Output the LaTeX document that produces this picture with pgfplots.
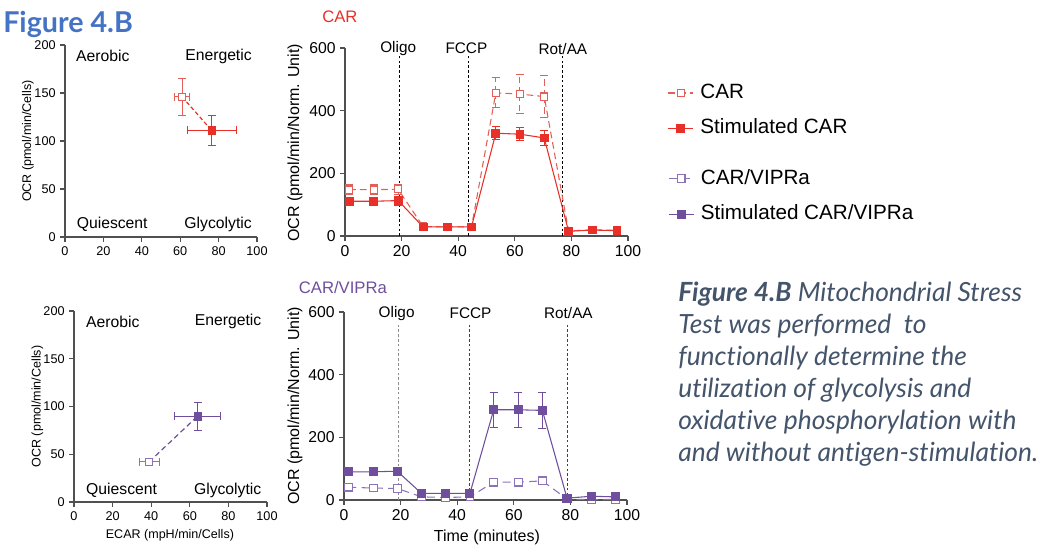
\documentclass[border=0pt]{standalone}
\usepackage{pgfplots}
\pgfplotsset{compat=1.18}
\usepackage{fontspec}
\setmainfont{Liberation Sans}
\newfontfamily\lato[Ligatures={NoCommon}]{Lato}

\definecolor{carred}{RGB}{232,48,40}
\definecolor{carlight}{RGB}{228,95,88}
\definecolor{vipr}{RGB}{111,78,158}
\definecolor{viprlight}{RGB}{140,115,185}
\definecolor{figblue}{RGB}{68,114,196}
\definecolor{capgray}{RGB}{68,84,106}
\definecolor{axgray}{RGB}{80,80,80}

\tikzset{
  quad/.style={font=\fontsize{11.8}{13}\selectfont, inner sep=0pt},
  drug/.style={font=\fontsize{11.5}{13}\selectfont},
}

\pgfplotsset{
  myaxis/.style={
    scale only axis,
    axis x line*=bottom, axis y line*=left,
    axis line style={axgray, line width=0.8pt},
    tick align=outside,
    major tick length=3.5pt,
    tick style={axgray, line width=0.8pt},
    /pgf/number format/assume math mode=true,
    clip=false,
    xmin=0, xmax=100,
  },
  scat/.style={
    myaxis, ymin=0, ymax=200,
    xtick={0,20,...,100}, ytick={0,50,...,200},
    tick label style={font=\fontsize{9.5}{11}\selectfont},
    label style={font=\fontsize{9.4}{11}\selectfont},
  },
  tser/.style={
    myaxis, ymin=0, ymax=600,
    xtick={0,20,...,100}, ytick={0,200,400,600},
    tick label style={font=\fontsize{11.8}{13}\selectfont},
    label style={font=\fontsize{12}{14}\selectfont},
  },
  ebar/.style={
    error bars/.cd,
      y dir=both, y explicit,
      error bar style={#1, line width=0.7pt},
      error mark options={#1, rotate=90, mark size=3pt, line width=0.7pt},
  },
  ebarxy/.style={
    error bars/.cd,
      x dir=both, x explicit, y dir=both, y explicit,
      error bar style={#1, line width=0.7pt},
      error mark options={#1, rotate=90, mark size=3pt, line width=0.7pt},
  },
  mylegend/.style={
    legend style={draw=none, fill=none, anchor=north west,
      font=\fontsize{15.5}{18}\selectfont, row sep=8pt, column sep=3pt, legend cell align=left,
      nodes={inner sep=2pt, text height=11.5pt, text depth=3pt}},
    legend image code/.code={\draw[mark repeat=2,mark phase=2,##1] plot coordinates {(0pt,0pt) (9.4pt,0pt) (18.8pt,0pt)};},
  },
}

\begin{document}
\begin{tikzpicture}
\path[use as bounding box] (0,0) rectangle (786.75pt,-417pt);

% Title
\node[anchor=base west, inner sep=0pt, text=figblue, font=\lato\bfseries\fontsize{21.5}{25}\selectfont] at (2.25pt,-24.75pt) {Figure 4.B};

% ---------------- Plot 1: CAR energy map ----------------
\begin{axis}[scat, at={(48.75pt,-177.75pt)}, anchor=origin, width=144pt, height=144pt,
  ylabel={OCR (pmol/min/Cells)},
  ylabel style={at={(axis description cs:-0.193,0.5)}, anchor=center},
]
\node[quad, anchor=west] at (axis cs:5.7,188.5) {Aerobic};
\node[quad, anchor=east] at (axis cs:97.4,188.5) {Energetic};
\node[quad, anchor=west] at (axis cs:6,13.5) {Quiescent};
\node[quad, anchor=east] at (axis cs:97.4,13.5) {Glycolytic};
\addplot[carred, line width=0.9pt, dash pattern=on 3pt off 2pt, forget plot] coordinates {(61,146) (76.4,111)};
\addplot[only marks, mark=square*, mark size=2.6pt, mark options={draw=carlight, fill=white, line width=0.7pt}, ebarxy=carlight]
  coordinates {(61,146) +- (4,19)};
\addplot[only marks, mark=square*, mark size=2.8pt, mark options={draw=carred, fill=carred}, ebarxy=carred]
  coordinates {(76.4,111) +- (12.7,16)};
\end{axis}

% ---------------- Plot 2: CAR time course ----------------
\begin{axis}[tser, mylegend, at={(258.75pt,-177pt)}, anchor=origin, width=212.25pt, height=141pt,
  ylabel={OCR (pmol/min/Norm. Unit)},
  ylabel style={at={(axis description cs:-0.177,0.495)}, anchor=center},
  legend style={at={(axis description cs:1.125,0.842)}},
]
\addplot[black, line width=0.7pt, dash pattern=on 2pt off 1.6pt, forget plot] coordinates {(19.2,0) (19.2,578)};
\addplot[black, line width=0.7pt, dash pattern=on 2pt off 1.6pt, forget plot] coordinates {(43.5,0) (43.5,578)};
\addplot[black, line width=0.7pt, dash pattern=on 2pt off 1.6pt, forget plot] coordinates {(76.8,0) (76.8,578)};
\node[drug] at (axis cs:18.8,598) {Oligo};
\node[drug] at (axis cs:42.9,598) {FCCP};
\node[drug] at (axis cs:77,598) {Rot/AA};
\node[font=\fontsize{12.5}{14}\selectfont, text=carred] at (axis description cs:-0.018,1.165) {CAR};
\addplot[carlight, line width=0.8pt, dash pattern=on 5pt off 3pt, mark=square*, mark size=2.7pt,
  mark options={solid, fill=white, draw=carlight}, ebar=carlight]
  coordinates {
    (1.5,148) +- (0,15) (10.2,148) +- (0,15) (18.8,149) +- (0,16)
    (27.6,30) +- (0,6) (36.2,29) +- (0,5) (44.7,29) +- (0,6)
    (53.3,457) +- (0,48) (61.8,453) +- (0,61) (70.4,445) +- (0,66)
    (79.0,16) +- (0,4) (87.4,20) +- (0,5) (96.1,18) +- (0,4)
  };
\addlegendentry{CAR}
\addplot[carred, line width=0.8pt, mark=square*, mark size=2.9pt,
  mark options={fill=carred, draw=carred}, ebar=carred]
  coordinates {
    (1.5,111) +- (0,12) (10.2,111) +- (0,12) (18.8,113) +- (0,14)
    (27.6,29) +- (0,5) (36.2,29) +- (0,5) (44.7,29) +- (0,5)
    (53.3,328) +- (0,21) (61.8,325) +- (0,21) (70.4,313) +- (0,24)
    (79.0,15) +- (0,3) (87.4,19) +- (0,4) (96.1,17) +- (0,4)
  };
\addlegendentry{Stimulated CAR}
\end{axis}

% ---------------- Plot 3: CAR/VIPRa energy map ----------------
\begin{axis}[scat, at={(55.5pt,-376.5pt)}, anchor=origin, width=144.75pt, height=143.25pt,
  ylabel={OCR (pmol/min/Cells)},
  ylabel style={at={(axis description cs:-0.19,0.5)}, anchor=center},
  xlabel={ECAR (mpH/min/Cells)},
  xlabel style={at={(axis description cs:0.497,-0.173)}, anchor=center},
]
\node[quad, anchor=west] at (axis cs:6.2,189) {Aerobic};
\node[quad, anchor=east] at (axis cs:97.2,189) {Energetic};
\node[quad, anchor=west] at (axis cs:6.2,12.5) {Quiescent};
\node[quad, anchor=east] at (axis cs:97.2,12.5) {Glycolytic};
\addplot[vipr, line width=0.9pt, dash pattern=on 4pt off 2.5pt, forget plot] coordinates {(38.9,42) (64.1,90)};
\addplot[only marks, mark=square*, mark size=2.7pt, mark options={draw=viprlight, fill=white, line width=0.7pt}, ebarxy=viprlight]
  coordinates {(38.9,42) +- (5.2,3.5)};
\addplot[only marks, mark=square*, mark size=2.8pt, mark options={draw=vipr, fill=vipr}, ebarxy=vipr]
  coordinates {(64.1,90) +- (11.9,14.7)};
\end{axis}

% ---------------- Plot 4: CAR/VIPRa time course ----------------
\begin{axis}[tser, mylegend, at={(258pt,-375pt)}, anchor=origin, width=212.25pt, height=141pt,
  ylabel={OCR (pmol/min/Norm. Unit)},
  ylabel style={at={(axis description cs:-0.173,0.5)}, anchor=center},
  xlabel={Time (minutes)},
  xlabel style={at={(axis description cs:0.505,-0.197)}, anchor=center},
  legend style={at={(axis description cs:1.13,1.79)}},
]
\addplot[black!45, line width=0.7pt, dash pattern=on 2pt off 1.6pt, forget plot] coordinates {(19.4,0) (19.4,560)};
\addplot[black!75, line width=0.8pt, dash pattern=on 2pt off 1.6pt, forget plot] coordinates {(44.5,0) (44.5,560)};
\addplot[black!75, line width=0.8pt, dash pattern=on 2pt off 1.6pt, forget plot] coordinates {(78.9,0) (78.9,560)};
\node[drug] at (axis cs:18.6,596) {Oligo};
\node[drug] at (axis cs:44.7,596) {FCCP};
\node[drug] at (axis cs:79.3,596) {Rot/AA};
\node[font=\fontsize{12.5}{14}\selectfont, text=vipr] at (axis description cs:-0.004,1.128) {CAR/VIPRa};
\addplot[viprlight, line width=0.8pt, dash pattern=on 6pt off 4pt, mark=square*, mark size=2.9pt,
  mark options={solid, fill=white, draw=viprlight}, ebar=viprlight]
  coordinates {
    (1.5,41) +- (0,5) (10.4,38) +- (0,4) (18.8,37) +- (0,4)
    (27.4,10) +- (0,3) (35.9,8) +- (0,3) (44.5,10) +- (0,3)
    (52.9,57) +- (0,5) (61.6,57) +- (0,5) (70.1,61) +- (0,5)
    (78.8,3) +- (0,2) (87.4,1) +- (0,2) (96.0,2) +- (0,2)
  };
\addlegendentry{CAR/VIPRa}
\addplot[vipr, line width=0.8pt, mark=square*, mark size=3pt,
  mark options={fill=vipr, draw=vipr}, ebar=vipr]
  coordinates {
    (1.5,90) +- (0,10) (10.4,90) +- (0,10) (18.8,92) +- (0,12)
    (27.4,21) +- (0,4) (35.9,21) +- (0,4) (44.5,21) +- (0,4)
    (52.9,288) +- (0,56) (61.6,288) +- (0,56) (70.1,286) +- (0,58)
    (78.8,6) +- (0,3) (87.4,12) +- (0,4) (96.0,10) +- (0,3)
  };
\addlegendentry{Stimulated CAR/VIPRa}
\end{axis}

% Caption
\node[anchor=north west, inner sep=0pt, align=left, text=capgray,
  font=\lato\itshape\fontsize{19.8}{24}\selectfont] at (508.5pt,-211.5pt)
  {\textbf{Figure 4.B} Mitochondrial Stress\\
   Test was performed\ \ to\\
   functionally determine the\\
   utilization of glycolysis and\\
   oxidative phosphorylation with\\
   and without antigen-stimulation.};
\end{tikzpicture}
\end{document}
